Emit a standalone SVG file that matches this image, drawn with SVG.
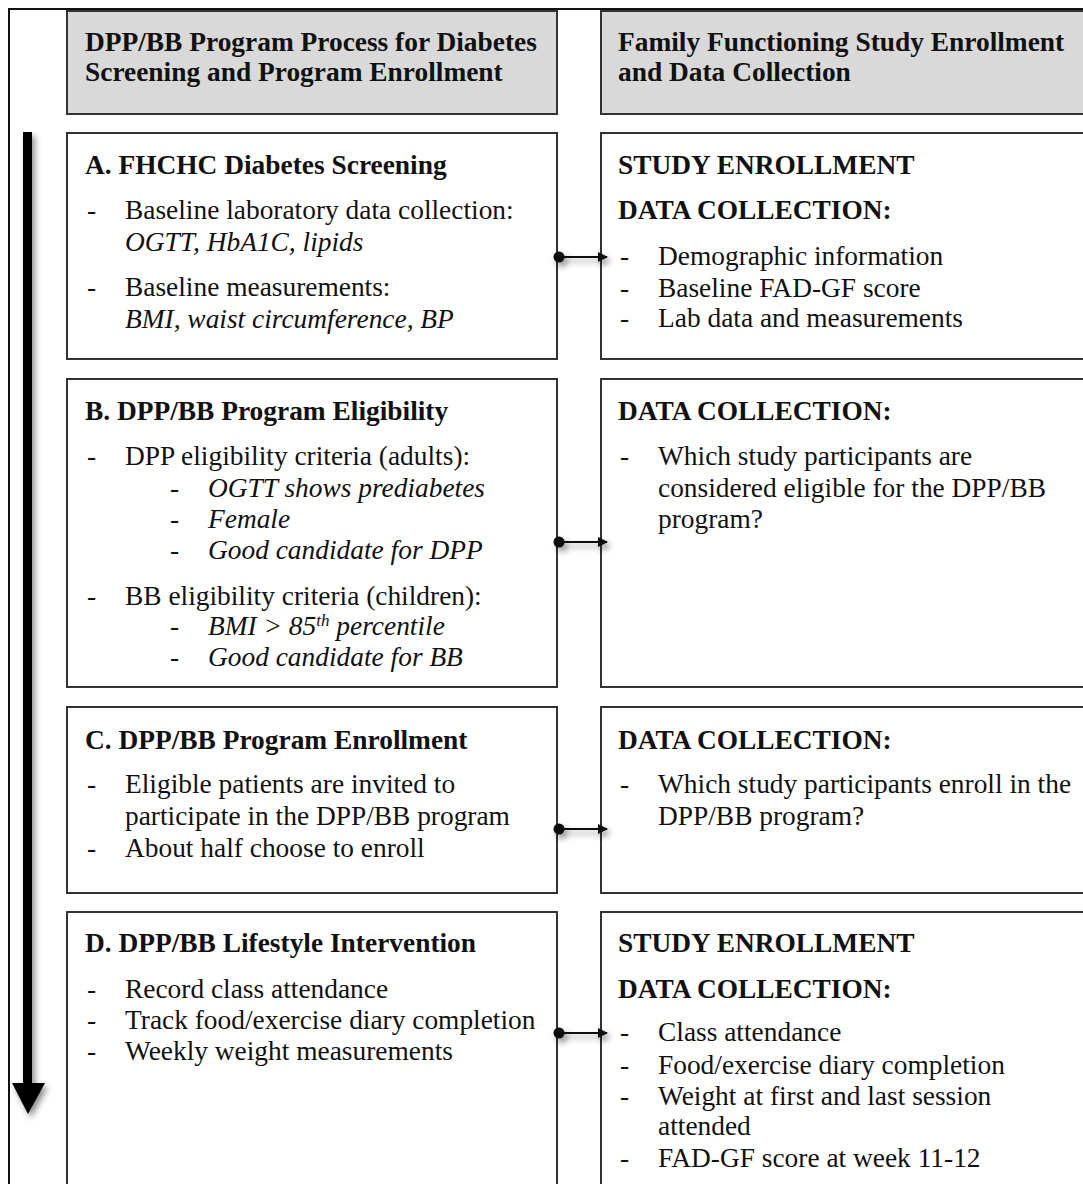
<svg xmlns="http://www.w3.org/2000/svg" width="1083" height="1184" viewBox="0 0 1083 1184">
<defs>
<style>
text{font-family:"Liberation Serif","Times New Roman",serif;font-size:27.4px;fill:#111}
.b{font-weight:bold}
.i{font-style:italic}
.box{fill:#fff;stroke:#333;stroke-width:2}
.hdr{fill:#d9d9d9;stroke:#333;stroke-width:2}
.frame{fill:none;stroke:#111;stroke-width:2}
.conn{stroke:#111;stroke-width:2;fill:none}
</style>
<filter id="sh" x="-50%" y="-50%" width="200%" height="200%">
<feGaussianBlur in="SourceAlpha" stdDeviation="3"/>
<feOffset dx="3" dy="4" result="o"/>
<feComponentTransfer><feFuncA type="linear" slope="0.45"/></feComponentTransfer>
<feMerge><feMergeNode/><feMergeNode in="SourceGraphic"/></feMerge>
</filter>
<marker id="ah" viewBox="0 0 10 10" refX="9" refY="5" markerWidth="5" markerHeight="5" orient="auto" markerUnits="strokeWidth">
<path d="M0,0 L10,5 L0,10 z" fill="#111"/>
</marker>
</defs>
<rect width="1083" height="1184" fill="#fff"/>
<path class="frame" d="M9,1190 V9 H1090"/>

<g id="timeline-arrow" filter="url(#sh)">
<rect x="23" y="132" width="9" height="953" fill="#000"/>
<path d="M12,1083 H45 L28,1114 z" fill="#000"/>
</g>

<g id="header-left">
<rect class="hdr" x="67" y="11" width="490" height="103"/>
<text class="b" x="85" y="51">DPP/BB Program Process for Diabetes</text>
<text class="b" x="85" y="81">Screening and Program Enrollment</text>
</g>
<g id="header-right">
<rect class="hdr" x="601" y="11" width="500" height="103"/>
<text class="b" x="618" y="51">Family Functioning Study Enrollment</text>
<text class="b" x="618" y="81">and Data Collection</text>
</g>

<g id="box-a">
<rect class="box" x="67" y="133" width="490" height="226"/>
<text class="b" x="85" y="174">A. FHCHC Diabetes Screening</text>
<text x="87" y="219">-</text><text x="125" y="219">Baseline laboratory data collection:</text>
<text class="i" x="125" y="251">OGTT, HbA1C, lipids</text>
<text x="87" y="296">-</text><text x="125" y="296">Baseline measurements:</text>
<text class="i" x="125" y="328">BMI, waist circumference, BP</text>
</g>
<g id="data-a">
<rect class="box" x="601" y="133" width="500" height="226"/>
<text class="b" x="618" y="174">STUDY ENROLLMENT</text>
<text class="b" x="618" y="219">DATA COLLECTION:</text>
<text x="620" y="265">-</text><text x="658" y="265">Demographic information</text>
<text x="620" y="297">-</text><text x="658" y="297">Baseline FAD-GF score</text>
<text x="620" y="327">-</text><text x="658" y="327">Lab data and measurements</text>
</g>

<g id="box-b">
<rect class="box" x="67" y="379" width="490" height="308"/>
<text class="b" x="85" y="420">B. DPP/BB Program Eligibility</text>
<text x="87" y="465">-</text><text x="125" y="465">DPP eligibility criteria (adults):</text>
<text x="170" y="497">-</text><text class="i" x="208" y="497">OGTT shows prediabetes</text>
<text x="170" y="528">-</text><text class="i" x="208" y="528">Female</text>
<text x="170" y="559">-</text><text class="i" x="208" y="559">Good candidate for DPP</text>
<text x="87" y="605">-</text><text x="125" y="605">BB eligibility criteria (children):</text>
<text x="170" y="635">-</text><text class="i" x="208" y="635">BMI &gt; 85<tspan font-size="17" dy="-9">th</tspan><tspan dy="9"> percentile</tspan></text>
<text x="170" y="666">-</text><text class="i" x="208" y="666">Good candidate for BB</text>
</g>
<g id="data-b">
<rect class="box" x="601" y="379" width="500" height="308"/>
<text class="b" x="618" y="420">DATA COLLECTION:</text>
<text x="620" y="465">-</text><text x="658" y="465">Which study participants are</text>
<text x="658" y="497">considered eligible for the DPP/BB</text>
<text x="658" y="528">program?</text>
</g>

<g id="box-c">
<rect class="box" x="67" y="707" width="490" height="186"/>
<text class="b" x="85" y="749">C. DPP/BB Program Enrollment</text>
<text x="87" y="793">-</text><text x="125" y="793">Eligible patients are invited to</text>
<text x="125" y="825">participate in the DPP/BB program</text>
<text x="87" y="857">-</text><text x="125" y="857">About half choose to enroll</text>
</g>
<g id="data-c">
<rect class="box" x="601" y="707" width="500" height="186"/>
<text class="b" x="618" y="749">DATA COLLECTION:</text>
<text x="620" y="793">-</text><text x="658" y="793">Which study participants enroll in the</text>
<text x="658" y="825">DPP/BB program?</text>
</g>

<g id="box-d">
<rect class="box" x="67" y="912" width="490" height="290"/>
<text class="b" x="85" y="952">D. DPP/BB Lifestyle Intervention</text>
<text x="87" y="998">-</text><text x="125" y="998">Record class attendance</text>
<text x="87" y="1029">-</text><text x="125" y="1029">Track food/exercise diary completion</text>
<text x="87" y="1060">-</text><text x="125" y="1060">Weekly weight measurements</text>
</g>
<g id="data-d">
<rect class="box" x="601" y="912" width="500" height="290"/>
<text class="b" x="618" y="952">STUDY ENROLLMENT</text>
<text class="b" x="618" y="998">DATA COLLECTION:</text>
<text x="620" y="1041">-</text><text x="658" y="1041">Class attendance</text>
<text x="620" y="1074">-</text><text x="658" y="1074">Food/exercise diary completion</text>
<text x="620" y="1105">-</text><text x="658" y="1105">Weight at first and last session</text>
<text x="658" y="1135">attended</text>
<text x="620" y="1167">-</text><text x="658" y="1167">FAD-GF score at week 11-12</text>
</g>

<g id="connectors" filter="url(#sh)">
<circle cx="559" cy="257" r="5.5" fill="#111"/>
<line class="conn" x1="559" y1="257" x2="607" y2="257" marker-end="url(#ah)"/>
<circle cx="559" cy="542" r="5.5" fill="#111"/>
<line class="conn" x1="559" y1="542" x2="607" y2="542" marker-end="url(#ah)"/>
<circle cx="559" cy="829" r="5.5" fill="#111"/>
<line class="conn" x1="559" y1="829" x2="607" y2="829" marker-end="url(#ah)"/>
<circle cx="559" cy="1033" r="5.5" fill="#111"/>
<line class="conn" x1="559" y1="1033" x2="607" y2="1033" marker-end="url(#ah)"/>
</g>
</svg>
